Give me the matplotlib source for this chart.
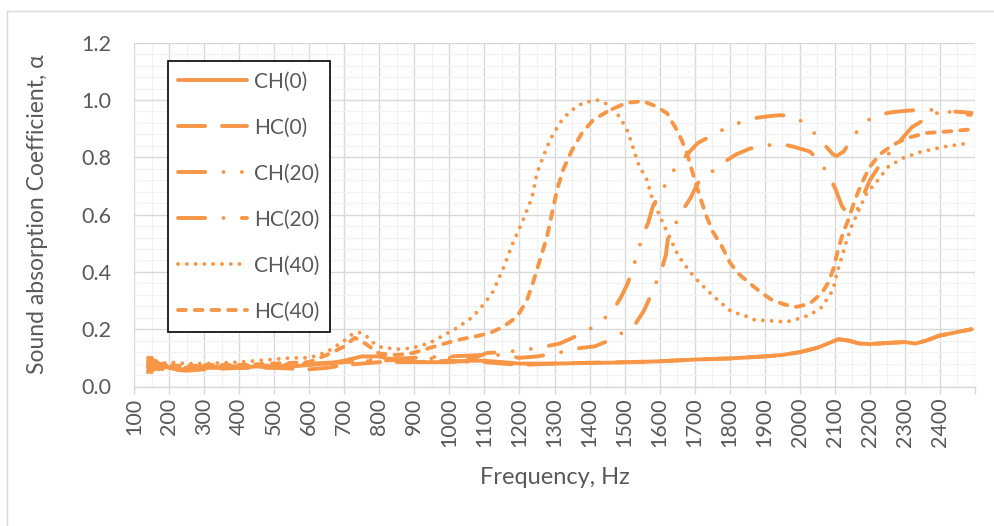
import numpy as np
import matplotlib
matplotlib.use("Agg")
import matplotlib.pyplot as plt
from matplotlib.patches import Rectangle
from matplotlib.ticker import MultipleLocator

plt.rcParams['font.family'] = ['Lato', 'DejaVu Sans']

# --- data ---
ch0_f = [140, 145, 150, 155, 160, 170, 180, 190, 200, 220, 250, 300, 350, 400, 450, 500,
         550, 600, 650, 700, 750, 800, 850, 900, 950, 1000, 1050, 1100, 1150, 1200, 1250,
         1300, 1400, 1500, 1600, 1700, 1800, 1900, 1950, 2000, 2050, 2080, 2110, 2140,
         2170, 2200, 2250, 2300, 2330, 2360, 2400, 2450, 2490]
ch0_a = [0.05, 0.10, 0.06, 0.09, 0.06, 0.08, 0.06, 0.07, 0.065, 0.06, 0.06, 0.065, 0.065,
         0.065, 0.07, 0.07, 0.07, 0.075, 0.08, 0.09, 0.105, 0.105, 0.09, 0.085, 0.085,
         0.085, 0.09, 0.09, 0.085, 0.08, 0.08, 0.08, 0.082, 0.084, 0.088, 0.094, 0.098,
         0.105, 0.11, 0.12, 0.135, 0.15, 0.165, 0.16, 0.15, 0.148, 0.152, 0.155, 0.15,
         0.16, 0.178, 0.19, 0.2]

hc0_f = [140, 150, 160, 180, 200, 250, 300, 400, 500, 600, 650, 700, 800, 900, 1000,
         1100, 1200, 1300, 1400, 1500, 1600, 1700, 1800, 1900, 1950, 2000, 2050, 2080,
         2110, 2140, 2170, 2200, 2250, 2300, 2330, 2360, 2400, 2450, 2490]
hc0_a = [0.07, 0.05, 0.09, 0.07, 0.06, 0.055, 0.06, 0.065, 0.065, 0.06, 0.065, 0.075,
         0.085, 0.085, 0.09, 0.085, 0.075, 0.08, 0.083, 0.085, 0.088, 0.094, 0.098,
         0.105, 0.11, 0.12, 0.135, 0.15, 0.165, 0.16, 0.15, 0.148, 0.152, 0.155, 0.15,
         0.16, 0.178, 0.19, 0.2]

ch20_f = [140, 150, 170, 200, 250, 300, 400, 500, 600, 700, 800, 900, 1000, 1079, 1107,
          1150, 1200, 1267, 1315, 1352, 1400, 1430, 1464, 1489, 1509, 1538, 1549, 1567,
          1581, 1624, 1646, 1709, 1786, 1826, 1872, 1915, 1943, 1970, 2000, 2037, 2066,
          2095, 2106, 2125, 2152, 2180, 2223, 2266, 2310, 2351, 2397, 2442, 2488]
ch20_a = [0.09, 0.06, 0.08, 0.07, 0.065, 0.07, 0.07, 0.075, 0.08, 0.085, 0.09, 0.095,
          0.1, 0.103, 0.117, 0.12, 0.125, 0.138, 0.15, 0.17, 0.2, 0.225, 0.26, 0.31,
          0.36, 0.466, 0.52, 0.57, 0.63, 0.72, 0.767, 0.85, 0.9, 0.92, 0.937, 0.944,
          0.947, 0.945, 0.93, 0.89, 0.85, 0.81, 0.805, 0.82, 0.87, 0.92, 0.948, 0.958,
          0.963, 0.966, 0.965, 0.955, 0.948]

hc20_f = [140, 150, 170, 200, 250, 300, 400, 500, 600, 700, 800, 900, 1000, 1100, 1150,
          1200, 1250, 1300, 1372, 1415, 1458, 1490, 1529, 1555, 1572, 1606, 1618, 1624,
          1666, 1689, 1709, 1780, 1818, 1857, 1900, 1943, 1985, 2029, 2060, 2086, 2103,
          2120, 2135, 2150, 2165, 2200, 2237, 2271, 2320, 2360, 2391, 2440, 2490]
hc20_a = [0.07, 0.1, 0.06, 0.08, 0.065, 0.07, 0.065, 0.07, 0.075, 0.085, 0.095, 0.1,
          0.105, 0.11, 0.11, 0.1, 0.105, 0.115, 0.134, 0.14, 0.162, 0.185, 0.215, 0.264,
          0.31, 0.41, 0.46, 0.52, 0.615, 0.66, 0.71, 0.78, 0.81, 0.83, 0.84, 0.848, 0.836,
          0.82, 0.78, 0.73, 0.686, 0.63, 0.605, 0.6, 0.62, 0.72, 0.79, 0.836, 0.905,
          0.935, 0.954, 0.96, 0.955]

ch40_f = [140, 150, 160, 180, 200, 250, 300, 400, 500, 550, 600, 650, 700, 720, 740, 760,
          780, 802, 850, 893, 944, 1021, 1067, 1096, 1124, 1153, 1181, 1210, 1236, 1250,
          1267, 1287, 1315, 1344, 1381, 1421, 1452, 1487, 1509, 1524, 1538, 1564, 1578,
          1595, 1615, 1635, 1652, 1672, 1700, 1735, 1772, 1806, 1838, 1872, 1920, 1960,
          1992, 2029, 2063, 2080, 2095, 2106, 2120, 2134, 2148, 2170, 2191, 2223, 2251,
          2294, 2342, 2408, 2485]
ch40_a = [0.1, 0.07, 0.09, 0.08, 0.085, 0.08, 0.08, 0.085, 0.095, 0.1, 0.1, 0.12, 0.16,
          0.18, 0.19, 0.18, 0.155, 0.138, 0.13, 0.134, 0.152, 0.204, 0.243, 0.284, 0.33,
          0.41, 0.50, 0.58, 0.66, 0.745, 0.80, 0.86, 0.92, 0.96, 0.99, 1.0, 0.985, 0.94,
          0.89, 0.835, 0.78, 0.72, 0.66, 0.61, 0.556, 0.505, 0.459, 0.424, 0.38, 0.337,
          0.295, 0.26, 0.25, 0.232, 0.229, 0.225, 0.235, 0.25, 0.277, 0.31, 0.337, 0.396,
          0.452, 0.51, 0.56, 0.62, 0.675, 0.72, 0.766, 0.797, 0.818, 0.836, 0.85]

hc40_f = [140, 150, 160, 180, 200, 250, 300, 400, 500, 600, 650, 700, 730, 760, 800, 850,
          896, 953, 1021, 1079, 1116, 1153, 1193, 1221, 1238, 1258, 1278, 1293, 1307,
          1324, 1350, 1378, 1410, 1458, 1506, 1552, 1586, 1621, 1644, 1663, 1678, 1692,
          1706, 1721, 1735, 1752, 1778, 1800, 1823, 1857, 1892, 1923, 1960, 1992, 2029,
          2063, 2080, 2095, 2109, 2123, 2138, 2157, 2177, 2200, 2228, 2265, 2305, 2362,
          2420, 2485]
hc40_a = [0.08, 0.1, 0.07, 0.08, 0.075, 0.07, 0.075, 0.075, 0.08, 0.085, 0.11, 0.14, 0.17,
          0.15, 0.115, 0.11, 0.117, 0.138, 0.162, 0.176, 0.187, 0.208, 0.243, 0.30, 0.36,
          0.44, 0.52, 0.605, 0.685, 0.755, 0.825, 0.884, 0.93, 0.965, 0.99, 0.996, 0.98,
          0.954, 0.906, 0.86, 0.815, 0.755, 0.697, 0.64, 0.59, 0.54, 0.488, 0.434, 0.396,
          0.36, 0.326, 0.30, 0.285, 0.278, 0.29, 0.326, 0.36, 0.407, 0.476, 0.535, 0.58,
          0.65, 0.71, 0.767, 0.81, 0.843, 0.867, 0.885, 0.89, 0.897]

x_ticks = list(range(100, 2501, 100))
x_labels = [str(v) for v in range(100, 2401, 100)] + ['']
y_ticks = [0.0, 0.2, 0.4, 0.6, 0.8, 1.0, 1.2]

orange = '#F79646'
grey = '#595959'

# (name, freqs, alpha, dash pattern in linewidth units; round caps)
series = [
    ('CH(0)', ch0_f, ch0_a, '-'),
    ('HC(0)', hc0_f, hc0_a, (0, (7, 4.3))),
    ('CH(20)', ch20_f, ch20_a, (0, (7, 4.7, 0.01, 4.7, 0.01, 4.7))),
    ('HC(20)', hc20_f, hc20_a, (0, (7, 4.7, 0.01, 4.7))),
    ('CH(40)', ch40_f, ch40_a, (0, (0.01, 2.25))),
    ('HC(40)', hc40_f, hc40_a, (0, (2.0, 2.3))),
]

fig = plt.figure(figsize=(9.94, 5.26), dpi=100)
ax = fig.add_axes([134 / 994, 1 - 386.5 / 526, 841 / 994, 343.8 / 526])

for name, f, a, ls in series:
    ax.plot(f, a, color=orange, lw=2.8, linestyle=ls, label=name,
            dash_capstyle='round', solid_capstyle='round')

ax.set_xlim(100, 2500)
ax.set_ylim(0, 1.2)
ax.set_xticks(x_ticks)
ax.set_xticklabels(x_labels, rotation=90)
ax.set_yticks(y_ticks)
ax.set_yticklabels([f'{v:.1f}' for v in y_ticks])
ax.xaxis.set_minor_locator(MultipleLocator(50))
ax.yaxis.set_minor_locator(MultipleLocator(0.04))

ax.grid(which='major', color='#D9D9D9', lw=1.0)
ax.grid(which='minor', color='#F2F2F2', lw=0.9)
ax.set_axisbelow(True)
for s in ['top', 'right', 'left']:
    ax.spines[s].set_visible(False)
ax.spines['bottom'].set_color('#D9D9D9')
ax.spines['bottom'].set_linewidth(1.0)
ax.tick_params(axis='x', which='major', length=5, color='#D9D9D9', width=1.0,
               labelsize=15.5, labelcolor=grey, pad=3)
ax.tick_params(axis='x', which='minor', length=0)
ax.tick_params(axis='y', which='both', length=0, labelsize=15.5, labelcolor=grey, pad=16)

ax.set_ylabel('Sound absorption Coefficient, α', fontsize=16.5, color=grey)
ax.yaxis.set_label_coords((38 - 134) / 841, 0.5)
ax.set_xlabel('Frequency, Hz', fontsize=17, color=grey)
ax.xaxis.set_label_coords((555 - 134) / 841, -(477 - 386.5) / 343.8)
ax.xaxis.label.set_va('center')
ax.yaxis.label.set_va('center')

leg = ax.legend(loc='upper left', bbox_to_anchor=((168 - 134) / 841, (386.5 - 61) / 343.8),
                borderaxespad=0, fontsize=15, frameon=True, fancybox=False,
                edgecolor='black', framealpha=1, handlelength=3.3, handletextpad=0.34,
                labelspacing=1.25, borderpad=0.5)
leg.get_frame().set_linewidth(1.2)
for t in leg.get_texts():
    t.set_color(grey)

# outer chart border
fig.patches.append(Rectangle((7 / 994, -0.05), 1.1, 1 - 11 / 526 + 0.05,
                             transform=fig.transFigure, fill=False,
                             edgecolor='#D9D9D9', lw=1.0))

fig.savefig('out.png', dpi=100)
